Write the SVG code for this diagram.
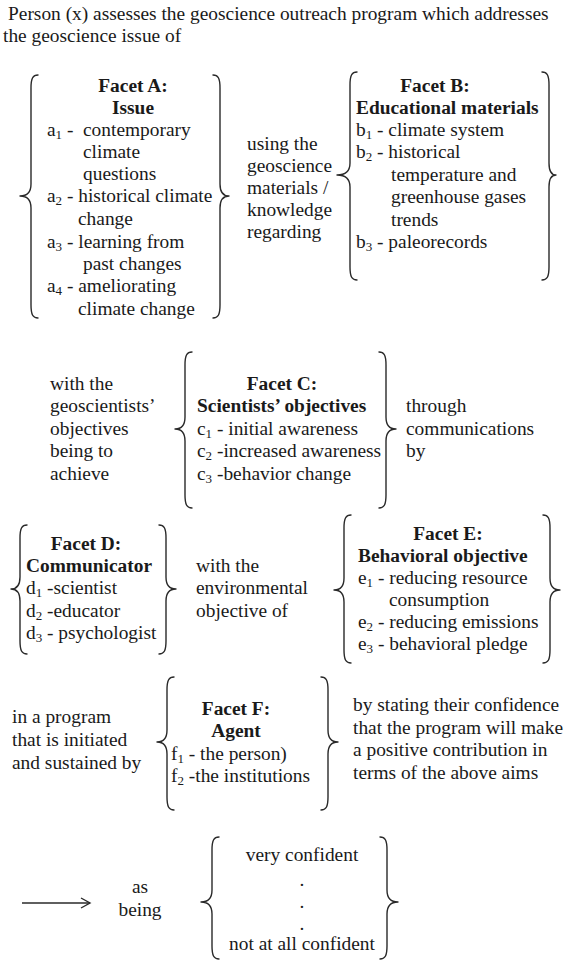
<svg xmlns="http://www.w3.org/2000/svg" width="564" height="961" viewBox="0 0 564 961">
<style>
.t{font-family:"Liberation Serif","Times New Roman",serif;font-size:19.4px;fill:#1a1a1a}
.b{font-weight:bold}
.m{text-anchor:middle}
.s{font-size:13px}
.br{fill:none;stroke:#2a2a2a;stroke-width:1.4;stroke-linecap:round;stroke-linejoin:round}
.ar{fill:none;stroke:#2a2a2a;stroke-width:1.4}
</style>
<defs>
<marker id="head" markerWidth="12" markerHeight="12" refX="10" refY="6" orient="auto" markerUnits="userSpaceOnUse">
<polyline points="1,1 10,6 1,11" fill="none" stroke="#2a2a2a" stroke-width="1.4"/>
</marker>
</defs>
<rect width="564" height="961" fill="#ffffff"/>

<g id="title">
<text class="t" x="8" y="20">Person (x) assesses the geoscience outreach program which addresses</text>
<text class="t" x="3" y="42">the geoscience issue of</text>
</g>

<g id="facetA">
<path class="br" d="M38,75 C33,75 31,78 31,88 L31,184 C31,192 28,196 20,196 C28,196 31,200 31,208 L31,305 C31,315 33,318 38,318"/>
<path class="br" d="M213,75 C218,75 220,78 220,88 L220,184 C220,192 223,196 229,196 C223,196 220,200 220,208 L220,305 C220,315 218,318 213,318"/>
<text class="t b m" x="133" y="92">Facet A:</text>
<text class="t b m" x="133" y="114">Issue</text>
<text class="t" x="47" y="136">a<tspan class="s" dy="3">1</tspan><tspan dy="-3"> -</tspan></text>
<text class="t" x="83" y="136">contemporary</text>
<text class="t" x="83" y="158">climate</text>
<text class="t" x="83" y="180">questions</text>
<text class="t" x="47" y="202">a<tspan class="s" dy="3">2</tspan><tspan dy="-3"> - historical climate</tspan></text>
<text class="t" x="78" y="225">change</text>
<text class="t" x="47" y="248">a<tspan class="s" dy="3">3</tspan><tspan dy="-3"> - learning from</tspan></text>
<text class="t" x="83" y="270">past changes</text>
<text class="t" x="47" y="292">a<tspan class="s" dy="3">4</tspan><tspan dy="-3"> - ameliorating</tspan></text>
<text class="t" x="78" y="315">climate change</text>
</g>

<g id="link-using">
<text class="t" x="247" y="150">using the</text>
<text class="t" x="247" y="172">geoscience</text>
<text class="t" x="247" y="194">materials /</text>
<text class="t" x="247" y="216">knowledge</text>
<text class="t" x="247" y="238">regarding</text>
</g>

<g id="facetB">
<path class="br" d="M357,72 C352,72 350,75 350,85 L350,163 C350,171 346,175 337,175 C346,175 350,179 350,187 L350,267 C350,277 352,280 357,280"/>
<path class="br" d="M542,72 C547,72 549,75 549,85 L549,163 C549,171 552,175 556,175 C552,175 549,179 549,187 L549,267 C549,277 547,280 542,280"/>
<text class="t b m" x="435" y="92">Facet B:</text>
<text class="t b" x="356" y="114">Educational materials</text>
<text class="t" x="356" y="136">b<tspan class="s" dy="3">1</tspan><tspan dy="-3"> - climate system</tspan></text>
<text class="t" x="356" y="158">b<tspan class="s" dy="3">2</tspan><tspan dy="-3"> - historical</tspan></text>
<text class="t" x="391" y="181">temperature and</text>
<text class="t" x="391" y="203">greenhouse gases</text>
<text class="t" x="391" y="226">trends</text>
<text class="t" x="356" y="248">b<tspan class="s" dy="3">3</tspan><tspan dy="-3"> - paleorecords</tspan></text>
</g>

<g id="link-with">
<text class="t" x="50" y="390">with the</text>
<text class="t" x="50" y="412">geoscientists’</text>
<text class="t" x="50" y="435">objectives</text>
<text class="t" x="50" y="457">being to</text>
<text class="t" x="50" y="480">achieve</text>
</g>

<g id="facetC">
<path class="br" d="M192,352 C187,352 185,355 185,365 L185,417 C185,425 182,429 175,429 C182,429 185,433 185,441 L185,495 C185,505 187,508 192,508"/>
<path class="br" d="M379,352 C384,352 386,355 386,365 L386,417 C386,425 389,429 396,429 C389,429 386,433 386,441 L386,495 C386,505 384,508 379,508"/>
<text class="t b m" x="282" y="390">Facet C:</text>
<text class="t b" x="197" y="412">Scientists’ objectives</text>
<text class="t" x="197" y="435">c<tspan class="s" dy="3">1</tspan><tspan dy="-3"> - initial awareness</tspan></text>
<text class="t" x="197" y="457">c<tspan class="s" dy="3">2</tspan><tspan dy="-3"> -increased awareness</tspan></text>
<text class="t" x="197" y="480">c<tspan class="s" dy="3">3</tspan><tspan dy="-3"> -behavior change</tspan></text>
</g>

<g id="link-through">
<text class="t" x="406" y="412">through</text>
<text class="t" x="406" y="435">communications</text>
<text class="t" x="406" y="457">by</text>
</g>

<g id="facetD">
<path class="br" d="M27,525 C22,525 20,528 20,538 L20,577 C20,585 17,589 11,589 C17,589 20,593 20,601 L20,641 C20,651 22,654 27,654"/>
<path class="br" d="M159,525 C164,525 166,528 166,538 L166,577 C166,585 169,589 176,589 C169,589 166,593 166,601 L166,641 C166,651 164,654 159,654"/>
<text class="t b m" x="86" y="550">Facet D:</text>
<text class="t b" x="26" y="572">Communicator</text>
<text class="t" x="26" y="594">d<tspan class="s" dy="3">1</tspan><tspan dy="-3"> -scientist</tspan></text>
<text class="t" x="26" y="617">d<tspan class="s" dy="3">2</tspan><tspan dy="-3"> -educator</tspan></text>
<text class="t" x="26" y="639">d<tspan class="s" dy="3">3</tspan><tspan dy="-3"> - psychologist</tspan></text>
</g>

<g id="link-env">
<text class="t" x="196" y="572">with the</text>
<text class="t" x="196" y="594">environmental</text>
<text class="t" x="196" y="617">objective of</text>
</g>

<g id="facetE">
<path class="br" d="M351,515 C346,515 344,518 344,528 L344,578 C344,586 341,590 334,590 C341,590 344,594 344,602 L344,650 C344,660 346,663 351,663"/>
<path class="br" d="M543,515 C548,515 550,518 550,528 L550,578 C550,586 553,590 560,590 C553,590 550,594 550,602 L550,650 C550,660 548,663 543,663"/>
<text class="t b m" x="448" y="540">Facet E:</text>
<text class="t b" x="358" y="562">Behavioral objective</text>
<text class="t" x="358" y="584">e<tspan class="s" dy="3">1</tspan><tspan dy="-3"> - reducing resource</tspan></text>
<text class="t" x="389" y="606">consumption</text>
<text class="t" x="358" y="628">e<tspan class="s" dy="3">2</tspan><tspan dy="-3"> - reducing emissions</tspan></text>
<text class="t" x="358" y="650">e<tspan class="s" dy="3">3</tspan><tspan dy="-3"> - behavioral pledge</tspan></text>
</g>

<g id="link-program">
<text class="t" x="12" y="723">in a program</text>
<text class="t" x="12" y="746">that is initiated</text>
<text class="t" x="12" y="769">and sustained by</text>
</g>

<g id="facetF">
<path class="br" d="M174,677 C169,677 167,680 167,690 L167,730 C167,738 164,742 157,742 C164,742 167,746 167,754 L167,797 C167,807 169,810 174,810"/>
<path class="br" d="M321,677 C326,677 328,680 328,690 L328,730 C328,738 331,742 338,742 C331,742 328,746 328,754 L328,797 C328,807 326,810 321,810"/>
<text class="t b m" x="236" y="715">Facet F:</text>
<text class="t b m" x="236" y="737">Agent</text>
<text class="t" x="171" y="760">f<tspan class="s" dy="3">1</tspan><tspan dy="-3"> - the person)</tspan></text>
<text class="t" x="171" y="782">f<tspan class="s" dy="3">2</tspan><tspan dy="-3"> -the institutions</tspan></text>
</g>

<g id="link-stating">
<text class="t" x="353" y="711">by stating their confidence</text>
<text class="t" x="353" y="734">that the program will make</text>
<text class="t" x="353" y="756">a positive contribution in</text>
<text class="t" x="353" y="779">terms of the above aims</text>
</g>

<g id="connectors">
<line class="ar" x1="22" y1="903" x2="90" y2="903" marker-end="url(#head)"/>
</g>

<g id="as-being">
<text class="t m" x="140" y="893">as</text>
<text class="t m" x="140" y="916">being</text>
</g>

<g id="scale">
<path class="br" d="M219,837 C214,837 212,840 212,850 L212,890 C212,898 209,902 201,902 C209,902 212,906 212,914 L212,946 C212,956 214,959 219,959"/>
<path class="br" d="M380,837 C385,837 387,840 387,850 L387,890 C387,898 390,902 398,902 C390,902 387,906 387,914 L387,946 C387,956 385,959 380,959"/>
<text class="t m" x="302" y="861">very confident</text>
<text class="t m" x="302" y="886">.</text>
<text class="t m" x="302" y="908">.</text>
<text class="t m" x="302" y="930">.</text>
<text class="t m" x="302" y="950">not at all confident</text>
</g>
</svg>
